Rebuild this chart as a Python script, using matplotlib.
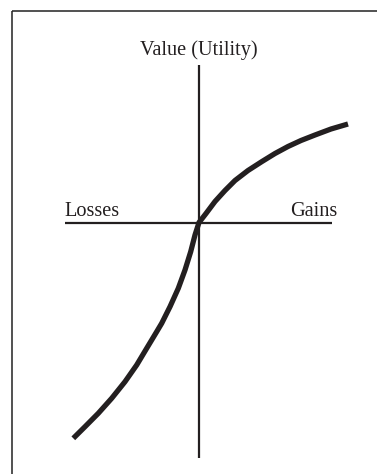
import matplotlib
matplotlib.use("Agg")
import matplotlib.pyplot as plt

plt.rcParams["font.family"] = "Liberation Serif"
FONTSIZE = 14.6

# value curve (x: losses/gains, y: value), origin at axis cross
loss_x = [-125.7, -114, -100.7, -87.3, -74, -62.3, -52.3, -42.3, -37.3, -29, -20.7, -14, -8.3, -4, 0]
loss_y = [-215.8, -204.2, -190.8, -175.8, -159.2, -142.5, -125.8, -109.2, -100.8, -84.2, -65.8, -47.5, -29.2, -12.5, 0]
gain_x = [0, 7, 16, 26, 36, 49, 63, 76, 89, 102, 116, 132, 149]
gain_y = [0, 9, 21, 32, 42, 52, 61, 69, 76, 82, 87.5, 93.5, 98.5]

# axis extents
h_axis = [-134, 133]
v_axis = [-235.5, 157.5]

fig = plt.figure(figsize=(3.77, 4.74), dpi=100)
ax = fig.add_axes([0, 0, 1, 1])
ax.set_xlim(-199, 178)
ax.set_ylim(-251.5, 222.5)
ax.axis("off")

# frame (top + left edges show)
ax.plot([-187, 178], [211.5, 211.5], color="#222222", lw=1.1, solid_capstyle="butt")
ax.plot([-187, -187], [211.5, -251.5], color="#222222", lw=1.1, solid_capstyle="butt")

# axes
ax.plot(h_axis, [0, 0], color="#231f20", lw=1.6, solid_capstyle="butt")
ax.plot([0, 0], v_axis, color="#231f20", lw=1.6, solid_capstyle="butt")

# curve
ax.plot(loss_x + gain_x[1:], loss_y + gain_y[1:], color="#231f20", lw=3.8,
        solid_capstyle="butt", solid_joinstyle="round")

ax.text(0, 167.5, "Value (Utility)", ha="center", va="baseline", fontsize=FONTSIZE, color="#231f20")
ax.text(-135, 6.8, "Losses", ha="left", va="baseline", fontsize=FONTSIZE, color="#231f20")
ax.text(138, 6.8, "Gains", ha="right", va="baseline", fontsize=FONTSIZE, color="#231f20")

fig.savefig("out.png", dpi=100)
